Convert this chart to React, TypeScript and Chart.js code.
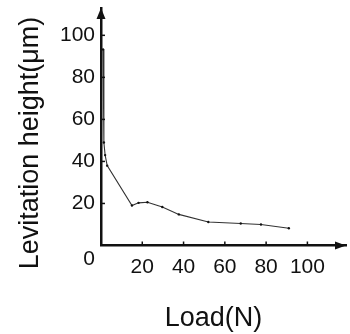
import React, { useEffect, useRef } from "react";
import { Chart, registerables } from "chart.js";

Chart.register(...registerables);

const loads = [1, 1.4, 2, 3, 15, 18.2, 22.5, 29.7, 37.7, 52, 67.7, 77.5, 91];
const heights = [93.3, 49, 43, 38, 19, 20.3, 20.6, 18.3, 14.8, 11.2, 10.5, 10, 8.2];
const xTicks = [20, 40, 60, 80, 100];
const yTicks = [20, 40, 60, 80, 100];
const xTitle = "Load(N)";
const yTitle = "Levitation height(μm)";
const originLabel = "0";

const FONT = "'Liberation Sans', Arial, sans-serif";
const INK = "#111";

const decorPlugin = {
  id: "decor",
  afterDraw(chart: any) {
    const ctx = chart.ctx;
    const xs = chart.scales.x;
    const ys = chart.scales.y;
    const ca = chart.chartArea;
    const ox = xs.getPixelForValue(0);
    const oy = ys.getPixelForValue(0);
    ctx.save();
    ctx.strokeStyle = INK;
    ctx.fillStyle = INK;
    ctx.lineWidth = 1.5;
    xTicks.forEach((v) => {
      const px = xs.getPixelForValue(v);
      ctx.beginPath();
      ctx.moveTo(px, oy);
      ctx.lineTo(px, oy - 4);
      ctx.stroke();
    });
    yTicks.forEach((v) => {
      const py = ys.getPixelForValue(v);
      ctx.beginPath();
      ctx.moveTo(ox, py);
      ctx.lineTo(ox + 4, py);
      ctx.stroke();
    });
    ctx.beginPath();
    ctx.moveTo(ox, ca.top);
    ctx.lineTo(ox - 4.5, ca.top + 11);
    ctx.lineTo(ox + 4.5, ca.top + 11);
    ctx.closePath();
    ctx.fill();
    ctx.beginPath();
    ctx.moveTo(ca.right, oy);
    ctx.lineTo(ca.right - 11, oy - 4);
    ctx.lineTo(ca.right - 11, oy + 4);
    ctx.closePath();
    ctx.fill();
    ctx.font = `21px ${FONT}`;
    ctx.textAlign = "right";
    ctx.textBaseline = "middle";
    ctx.fillText(originLabel, ox - 6, oy + 14);
    ctx.font = `27px ${FONT}`;
    ctx.textAlign = "center";
    ctx.textBaseline = "alphabetic";
    ctx.fillText(xTitle, 213.5, 326);
    ctx.translate(38, 143);
    ctx.rotate(-Math.PI / 2);
    ctx.fillText(yTitle, 0, 0);
    ctx.restore();
  },
};

export default function App() {
  const ref = useRef<HTMLCanvasElement>(null);
  useEffect(() => {
    if (!ref.current) return;
    const chart = new Chart(ref.current, {
      type: "line",
      data: {
        datasets: [
          {
            data: loads.map((x, i) => ({ x, y: heights[i] })),
            borderColor: "#333",
            borderWidth: 1.1,
            pointRadius: 1.2,
            pointBackgroundColor: "#111",
            pointBorderWidth: 0,
            tension: 0,
          },
        ],
      },
      options: {
        responsive: false,
        animation: false,
        layout: { padding: { top: 8, right: 1, left: 0, bottom: 0 } },
        plugins: { legend: { display: false }, tooltip: { enabled: false } },
        scales: {
          x: {
            type: "linear",
            min: 0,
            max: 118.7,
            afterFit: (s: any) => {
              s.height = 88.5;
              s.paddingLeft = 0;
              s.paddingRight = 0;
            },
            afterBuildTicks: (s: any) => {
              s.ticks = xTicks.map((v) => ({ value: v }));
            },
            grid: { display: false, drawTicks: false },
            border: { display: true, color: INK, width: 2.5 },
            ticks: {
              includeBounds: false,
              padding: 9,
              color: INK,
              font: { family: FONT, size: 21 },
              maxRotation: 0,
            },
          },
          y: {
            type: "linear",
            min: 0,
            max: 113,
            afterFit: (s: any) => {
              s.width = 101;
              s.paddingTop = 0;
              s.paddingBottom = 0;
            },
            afterBuildTicks: (s: any) => {
              s.ticks = yTicks.map((v) => ({ value: v }));
            },
            grid: { display: false, drawTicks: false },
            border: { display: true, color: INK, width: 2.5 },
            ticks: {
              includeBounds: false,
              padding: 6,
              color: INK,
              font: { family: FONT, size: 21 },
            },
          },
        },
      },
      plugins: [decorPlugin],
    });
    return () => chart.destroy();
  }, []);
  return (
    <div style={{ position: "absolute", left: 0, top: 0, width: 350, height: 334, background: "#fff" }}>
      <canvas ref={ref} width={350} height={334} style={{ display: "block" }} />
    </div>
  );
}
